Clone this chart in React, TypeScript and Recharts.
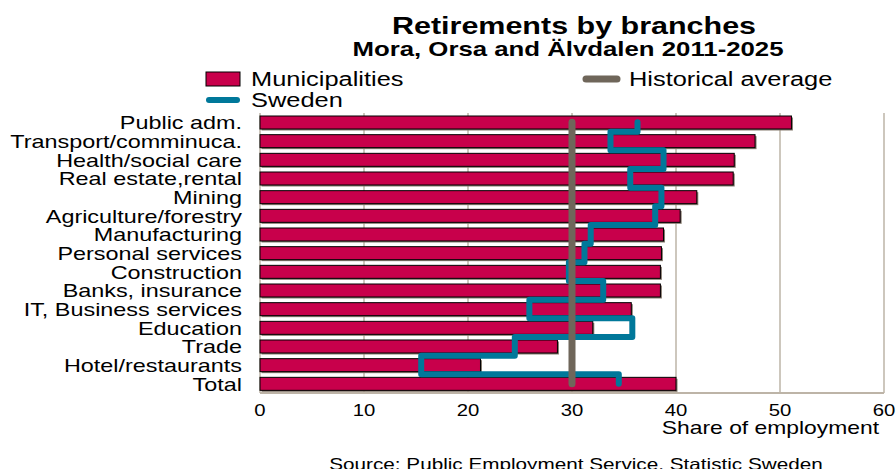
import React from 'react';
import { ComposedChart, Bar, Line, XAxis, YAxis, CartesianGrid } from 'recharts';

const categories = [
  'Public adm.',
  'Transport/comminuca.',
  'Health/social care',
  'Real estate,rental',
  'Mining',
  'Agriculture/forestry',
  'Manufacturing',
  'Personal services',
  'Construction',
  'Banks, insurance',
  'IT, Business services',
  'Education',
  'Trade',
  'Hotel/restaurants',
  'Total',
];

const municipalities = [51.1, 47.6, 45.6, 45.5, 42.0, 40.4, 38.8, 38.6, 38.5, 38.5, 35.7, 32.0, 28.6, 21.2, 40.0];
const sweden = [36.3, 33.7, 38.8, 35.6, 38.6, 38.0, 31.8, 31.2, 29.7, 33.0, 25.9, 35.8, 24.5, 15.5, 34.5];
const historicalAverage = [30, 30, 30, 30, 30, 30, 30, 30, 30, 30, 30, 30, 30, 30, 30];
const xTicks = [0, 10, 20, 30, 40, 50, 60];

const data = categories.map((name, i) => ({
  name,
  municipalities: municipalities[i],
  sweden: sweden[i],
  historical: historicalAverage[i],
}));

const FONT = "'Liberation Sans', Arial, Helvetica, sans-serif";
const STRETCH = 1.27;
const LABEL_STRETCH = 1.3;
const CRIMSON = '#c8004b';
const TEAL = '#00789a';
const HIST = '#6f665a';
const GRID = '#bdb4a7';

// step curve in the vertical direction (steps at the midpoint between categories)
const stepY = (context: any) => {
  let x0 = NaN;
  let y0 = NaN;
  let pt = 0;
  return {
    areaStart() {},
    areaEnd() {},
    lineStart() {
      x0 = NaN;
      y0 = NaN;
      pt = 0;
    },
    lineEnd() {},
    point(x: number, y: number) {
      x = +x;
      y = +y;
      if (pt === 0) {
        pt = 1;
        context.moveTo(x, y);
      } else {
        const ym = (y0 + y) / 2;
        context.lineTo(x0, ym);
        context.lineTo(x, ym);
        context.lineTo(x, y);
      }
      x0 = x;
      y0 = y;
    },
  };
};

const SText = ({ x, y, anchor, size, bold, children }: any) => (
  <text
    transform={`translate(${x},${y}) scale(${STRETCH},1)`}
    textAnchor={anchor}
    fontSize={size}
    fontWeight={bold ? 'bold' : 'normal'}
    fontFamily={FONT}
    fill="#000"
  >
    {children}
  </text>
);

const YTick = (props: any) => {
  const { x, y, payload } = props;
  return (
    <g transform={`translate(${x},${y}) scale(${LABEL_STRETCH},1)`}>
      <text x={0} y={0} dy={7} textAnchor="end" fontSize={18} fontFamily={FONT} fill="#000">
        {payload.value}
      </text>
    </g>
  );
};

const XTick = (props: any) => {
  const { x, y, payload } = props;
  return (
    <g transform={`translate(${x},${y}) scale(${STRETCH},1)`}>
      <text x={0} y={0} dy={13} textAnchor="middle" fontSize={16} fontFamily={FONT} fill="#000">
        {payload.value}
      </text>
    </g>
  );
};

const BarShape = (props: any) => {
  const { x, y, width, height } = props;
  if (width == null || height == null) return null;
  return (
    <g>
      <rect x={x + 1.5} y={y + 1.5} width={width} height={height} fill="#857b6f" />
      <rect x={x} y={y} width={width} height={height} fill={CRIMSON} stroke="#000" strokeWidth={1} />
    </g>
  );
};

export default function App() {
  return (
    <div style={{ position: 'absolute', left: 0, top: 0, width: 896, height: 469, background: '#fff' }}>
      <ComposedChart
        width={896}
        height={469}
        data={data}
        layout="vertical"
        margin={{ top: 113, right: 12, bottom: 46, left: 0 }}
        barSize={13}
      >
        <CartesianGrid horizontal={false} vertical={true} stroke={GRID} strokeWidth={1.5} />
        <XAxis
          type="number"
          domain={[0, 60]}
          ticks={xTicks}
          interval={0}
          height={30}
          tickLine={false}
          tickSize={0}
          tickMargin={10}
          axisLine={{ stroke: GRID, strokeWidth: 2 }}
          tick={<XTick />}
        />
        <YAxis
          type="category"
          dataKey="name"
          width={260}
          interval={0}
          tickLine={false}
          tickSize={0}
          tickMargin={18}
          axisLine={false}
          tick={<YTick />}
        />
        <Bar dataKey="municipalities" isAnimationActive={false} shape={<BarShape />} />
        <Line
          dataKey="sweden"
          type={stepY as any}
          stroke={TEAL}
          strokeWidth={6}
          strokeLinejoin="round"
          strokeLinecap="round"
          dot={false}
          activeDot={false}
          isAnimationActive={false}
        />
        <Line
          dataKey="historical"
          type="linear"
          stroke={HIST}
          strokeWidth={7}
          strokeLinecap="round"
          dot={false}
          activeDot={false}
          isAnimationActive={false}
        />
      </ComposedChart>
      <svg
        width={896}
        height={469}
        style={{ position: 'absolute', left: 0, top: 0, pointerEvents: 'none' }}
      >
        <SText x={574} y={34} anchor="middle" size={24} bold>
          Retirements by branches
        </SText>
        <SText x={568} y={56} anchor="middle" size={20.3} bold>
          Mora, Orsa and Älvdalen 2011-2025
        </SText>
        <rect x={206} y={72} width={34} height={14} fill={CRIMSON} stroke="#000" strokeWidth={1} />
        <SText x={251} y={86} anchor="start" size={20}>
          Municipalities
        </SText>
        <line x1={586} y1={79} x2={617} y2={79} stroke={HIST} strokeWidth={7} strokeLinecap="round" />
        <SText x={629} y={86} anchor="start" size={20}>
          Historical average
        </SText>
        <line x1={209} y1={100} x2={237} y2={100} stroke={TEAL} strokeWidth={6} strokeLinecap="round" />
        <SText x={251} y={107} anchor="start" size={20}>
          Sweden
        </SText>
        <SText x={879} y={434} anchor="end" size={18}>
          Share of employment
        </SText>
        <SText x={576} y={470} anchor="middle" size={16.3}>
          Source: Public Employment Service, Statistic Sweden
        </SText>
      </svg>
    </div>
  );
}
